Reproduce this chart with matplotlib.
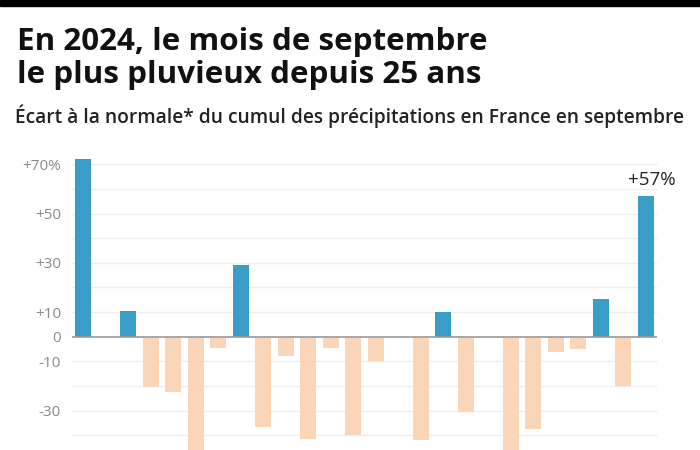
import matplotlib
matplotlib.use("Agg")
import matplotlib.pyplot as plt
import numpy as np

years = list(range(1999, 2025))
ecart = [72, 0, 10.6, -20.3, -22.6, -48, -4.5, 29.1, -36.5, -7.8, -41.5, -4.7, -39.9,
         -9.7, 0, -41.9, 10.2, -30.7, 0, -48, -37.4, -6.3, -5.0, 15.2, -19.9, 57]
ytick_vals = [70, 50, 30, 10, 0, -10, -30]
ytick_labels = ["+70%", "+50", "+30", "+10", "0", "-10", "-30"]

blue = "#3a9dc8"
peach = "#fbd5b7"

plt.rcParams['font.family'] = ['Open Sans', 'DejaVu Sans']

fig = plt.figure(figsize=(7, 4.5), dpi=100)
ax = fig.add_axes([72 / 700, 0, 585 / 700, 1 - 155 / 450])

x = np.arange(len(years))
colors = [blue if v > 0 else peach for v in ecart]
ax.bar(x, ecart, width=0.71, color=colors, zorder=3)

ax.set_xlim(-0.5, len(years) - 0.5)
ax.set_ylim(-46, 73.8)
for g in range(-40, 80, 10):
    if g != 0:
        ax.axhline(g, color="#eeeeee", lw=1, zorder=1)
ax.axhline(0, color="#999999", lw=1.2, zorder=4)

ax.set_yticks(ytick_vals)
ax.set_yticklabels(ytick_labels, color="#8a8a8a", fontsize=11)
ax.tick_params(axis="y", length=0, pad=8)
ax.set_xticks([])
for s in ax.spines.values():
    s.set_visible(False)

ax.text(x[-1] + 0.25, ecart[-1] + 2.8, "+57%", ha="center", va="bottom", fontsize=13.5, color="#222222")

# bandeau noir en haut
fig.add_artist(plt.Rectangle((0, 1 - 6 / 450), 1, 6 / 450, color="black", transform=fig.transFigure))

fig.text(17 / 700, 1 - 50 / 450, "En 2024, le mois de septembre", fontsize=22.6, fontweight="bold",
         color="#111111", va="baseline")
fig.text(17 / 700, 1 - 83 / 450, "le plus pluvieux depuis 25 ans", fontsize=22.6, fontweight="bold",
         color="#111111", va="baseline")
fig.text(15 / 700, 1 - 123 / 450, "Écart à la normale* du cumul des précipitations en France en septembre",
         fontsize=13.8, fontweight="semibold", color="#222222", va="baseline")

fig.savefig("out.png", dpi=100)
